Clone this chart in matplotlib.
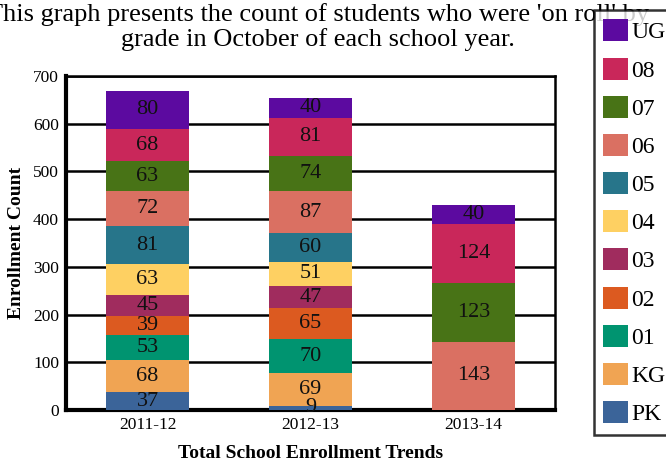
import matplotlib
matplotlib.use("Agg")
import matplotlib.pyplot as plt
import numpy as np

plt.rcParams['font.family'] = ['Liberation Serif', 'DejaVu Serif']

years = ["2011-12", "2012-13", "2013-14"]
grades = ["PK", "KG", "01", "02", "03", "04", "05", "06", "07", "08", "UG"]
values = {
    "PK": [37, 9, 0],
    "KG": [68, 69, 0],
    "01": [53, 70, 0],
    "02": [39, 65, 0],
    "03": [45, 47, 0],
    "04": [63, 51, 0],
    "05": [81, 60, 0],
    "06": [72, 87, 143],
    "07": [63, 74, 123],
    "08": [68, 81, 124],
    "UG": [80, 40, 40],
}
colors = {
    "PK": "#3b6499", "KG": "#f0a453", "01": "#009470", "02": "#dc5a20",
    "03": "#a02c5e", "04": "#fed062", "05": "#27758a", "06": "#da7062",
    "07": "#487316", "08": "#c9275a", "UG": "#5c0aa0",
}
title = "This graph presents the count of students who were 'on roll' by\ngrade in October of each school year."

fig = plt.figure(figsize=(6.66, 4.68), dpi=100)
ax = fig.add_axes([66/666, 1 - 410/468, (555-66)/666, (410-76)/468])

x = np.arange(len(years))
bottom = np.zeros(len(years))
handles = {}
for g in grades:
    v = np.array(values[g], dtype=float)
    bars = ax.bar(x, v, bottom=bottom, width=0.51, color=colors[g], zorder=3)
    handles[g] = bars
    for xi, vi, bi in zip(x, v, bottom):
        if vi > 0:
            ax.text(xi, bi + vi / 2, f"{int(vi)}", ha="center", va="center",
                    fontsize=16, color="#111111", zorder=4)
    bottom += v

ax.set_xlim(-0.5, 2.5)
ax.set_ylim(0, 700)
ax.set_yticks(np.arange(0, 701, 100))
ax.set_xticks(x)
ax.set_xticklabels(years)
ax.tick_params(axis='both', labelsize=12.5, length=0, pad=5)
ax.yaxis.grid(True, color="black", linewidth=1.8, zorder=0)
ax.set_axisbelow(True)
for s in ["left", "bottom"]:
    ax.spines[s].set_linewidth(3)
for s in ["top", "right"]:
    ax.spines[s].set_linewidth(1.8)
ax.set_ylabel("Enrollment Count", fontsize=14, fontweight="bold", labelpad=6)
ax.set_xlabel("Total School Enrollment Trends", fontsize=14, fontweight="bold", labelpad=9)

fig.text(318/666, 1 - 3/468, title, ha="center", va="top", fontsize=19, linespacing=1.12)

leg_order = grades[::-1]
leg = fig.legend([handles[g] for g in leg_order], leg_order,
                 loc="upper left", bbox_to_anchor=(594/666, 1 - 10/468),
                 fontsize=17, frameon=True, fancybox=False, edgecolor="black",
                 handlelength=1.06, handleheight=1.05, handletextpad=0.12,
                 labelspacing=0.6, borderpad=0.4, borderaxespad=0)
leg.get_frame().set_linewidth(1.8)

fig.savefig("out.png", dpi=100)
